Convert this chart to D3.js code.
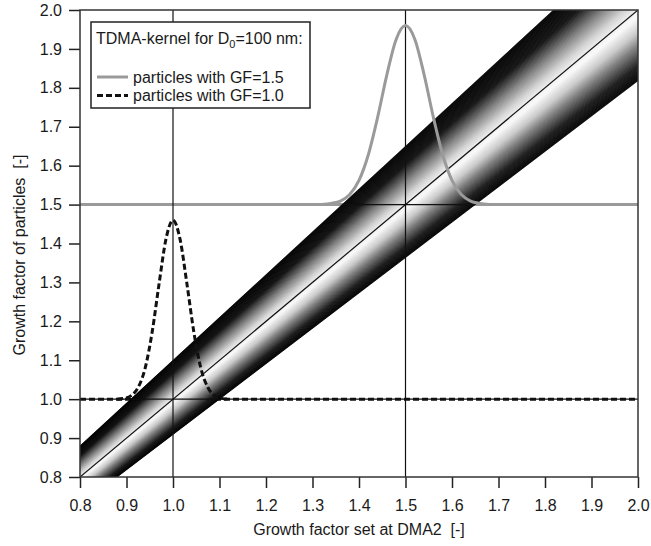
<!DOCTYPE html>
<html>
<head>
<meta charset="utf-8">
<script src="https://cdn.jsdelivr.net/npm/d3@7"></script>
<style>
  body { margin: 0; background: #fff; }
  text { font-family: "Liberation Sans", Arial, sans-serif; fill: #1a1a1a; white-space: pre; }
</style>
</head>
<body>
<div id="chart"></div>
<script>
// axis ticks
var xTicks = [0.8, 0.9, 1.0, 1.1, 1.2, 1.3, 1.4, 1.5, 1.6, 1.7, 1.8, 1.9, 2.0];
var yTicks = [0.8, 0.9, 1.0, 1.1, 1.2, 1.3, 1.4, 1.5, 1.6, 1.7, 1.8, 1.9, 2.0];

// kernel band: GF_particles between setGF/(1+w) and setGF*(1+w)
var bandWidth = 0.1;
// shade across the band: position (-1 lower edge .. +1 upper edge), grey level
var shadePos  = [-1.0, -0.78, -0.5, -0.3, -0.08, 0.0, 0.15, 0.4, 0.7, 1.0];
var shadeGrey = [   0,    25,  120,  200,   250, 240,  210, 128,  15,   0];

// guide lines (set GF of the two examples)
var guideValues = [1.0, 1.5];

// measured distribution, particles with GF=1.5
var gf15X = [1.32, 1.34, 1.36, 1.38, 1.40, 1.42, 1.44, 1.46, 1.48, 1.50, 1.52, 1.54, 1.56, 1.58, 1.60, 1.62, 1.64, 1.66, 1.68];
var gf15Y = [1.500, 1.503, 1.509, 1.526, 1.562, 1.628, 1.724, 1.834, 1.925, 1.960, 1.925, 1.834, 1.724, 1.628, 1.562, 1.526, 1.509, 1.503, 1.500];
// measured distribution, particles with GF=1.0
var gf10X = [0.880, 0.895, 0.910, 0.925, 0.940, 0.955, 0.970, 0.985, 1.000, 1.015, 1.030, 1.045, 1.060, 1.075, 1.090, 1.105, 1.120];
var gf10Y = [1.000, 1.002, 1.009, 1.030, 1.079, 1.171, 1.296, 1.412, 1.460, 1.412, 1.296, 1.171, 1.079, 1.030, 1.009, 1.002, 1.000];

var legendItems = ['particles with GF=1.5', 'particles with GF=1.0'];

const W = 651, H = 546;
const m = {left: 80, right: 13, top: 10, bottom: 69};
const FS = '16px';

const svg = d3.select('#chart').append('svg')
  .attr('width', W)
  .attr('height', H);

const x = d3.scaleLinear().domain([0.8, 2.0]).range([m.left, W - m.right]);
const y = d3.scaleLinear().domain([0.8, 2.0]).range([H - m.bottom, m.top]);

const defs = svg.append('defs');
defs.append('clipPath').attr('id', 'plotClip')
  .append('rect')
  .attr('x', x(0.8)).attr('y', y(2.0))
  .attr('width', x(2.0) - x(0.8)).attr('height', y(0.8) - y(2.0));

const rLo = 1 / (1 + bandWidth), rHi = 1 + bandWidth;
function bandPoints(r0, r1) {
  return [[x(0.7), y(0.7 * r0)], [x(2.1), y(2.1 * r0)],
          [x(2.1), y(2.1 * r1)], [x(0.7), y(0.7 * r1)]].join(' ');
}
defs.append('clipPath').attr('id', 'bandClip')
  .append('polygon').attr('points', bandPoints(rLo, rHi));

const plot = svg.append('g').attr('clip-path', 'url(#plotClip)');

// thin horizontal guides, under everything
const hGuide = function(g) {
  g.selectAll('line')
    .data(guideValues)
    .enter().append('line')
    .attr('x1', x(0.8)).attr('x2', x(2.0))
    .attr('y1', d => y(d)).attr('y2', d => y(d))
    .attr('stroke', '#111').attr('stroke-width', 1.2);
};
plot.append('g').call(hGuide);

// baselines of the distributions (under the kernel)
plot.append('line')
  .attr('x1', x(0.8)).attr('x2', x(2.0))
  .attr('y1', y(1.5)).attr('y2', y(1.5))
  .attr('stroke', '#9a9a9a').attr('stroke-width', 3);
plot.append('line')
  .attr('x1', x(0.8)).attr('x2', x(2.0))
  .attr('y1', y(1.0)).attr('y2', y(1.0))
  .attr('stroke', '#111').attr('stroke-width', 3)
  .attr('stroke-dasharray', '6,3');

// KERNEL BAND, drawn as thin strips of constant ratio
const shade = d3.scaleLinear().domain(shadePos).range(shadeGrey).clamp(true);
const nStrips = 120;
const lnW = Math.log(rHi);
const strips = d3.range(nStrips).map(function(i) {
  const s0 = -1 + 2 * i / nStrips, s1 = -1 + 2 * (i + 1) / nStrips;
  return {r0: Math.exp(s0 * lnW), r1: Math.exp(s1 * lnW), s: (s0 + s1) / 2};
});
plot.append('g').selectAll('polygon')
  .data(strips)
  .enter().append('polygon')
  .attr('points', d => bandPoints(d.r0, d.r1))
  .attr('fill', function(d) { const g = Math.round(shade(d.s)); return d3.rgb(g, g, g); })
  .attr('stroke', function(d) { const g = Math.round(shade(d.s)); return d3.rgb(g, g, g); })
  .attr('stroke-width', 0.6);

// horizontal guides again, visible through the band
plot.append('g').attr('clip-path', 'url(#bandClip)').call(hGuide);

// vertical guides and 1:1 line
const guide = plot.append('g').attr('stroke', '#111').attr('stroke-width', 1.2);
guideValues.forEach(function(v) {
  guide.append('line').attr('x1', x(v)).attr('x2', x(v)).attr('y1', y(0.8)).attr('y2', y(2.0));
});
guide.append('line').attr('x1', x(0.8)).attr('y1', y(0.8)).attr('x2', x(2.0)).attr('y2', y(2.0));

// distributions
const line = d3.line().curve(d3.curveMonotoneX)
  .x(function(d) { return x(d[0]); })
  .y(function(d) { return y(d[1]); });

plot.append('path')
  .datum(d3.zip(gf15X, gf15Y))
  .attr('d', line)
  .attr('fill', 'none')
  .attr('stroke', '#9a9a9a')
  .attr('stroke-width', 3);

plot.append('path')
  .datum(d3.zip(gf10X, gf10Y))
  .attr('d', line)
  .attr('fill', 'none')
  .attr('stroke', '#111')
  .attr('stroke-width', 3)
  .attr('stroke-dasharray', '6,3');

// AXES
const xAxis = svg.append('g')
  .attr('transform', `translate(0,${y(0.8)})`)
  .call(d3.axisBottom(x).tickValues(xTicks).tickFormat(d3.format('.1f')).tickSizeInner(11).tickSizeOuter(0).tickPadding(12));
const yAxis = svg.append('g')
  .attr('transform', `translate(${x(0.8)},0)`)
  .call(d3.axisLeft(y).tickValues(yTicks).tickFormat(d3.format('.1f')).tickSizeInner(11).tickSizeOuter(0).tickPadding(7));

[xAxis, yAxis].forEach(function(a) {
  a.select('.domain').remove();
  a.selectAll('line').attr('stroke', '#222').attr('stroke-width', 1.5);
  a.selectAll('text').style('font-size', FS).style('font-family', '"Liberation Sans", Arial, sans-serif').attr('fill', '#1a1a1a');
});

// frame
svg.append('rect')
  .attr('x', x(0.8)).attr('y', y(2.0))
  .attr('width', x(2.0) - x(0.8)).attr('height', y(0.8) - y(2.0))
  .attr('fill', 'none').attr('stroke', '#333').attr('stroke-width', 1.5);

// axis titles
svg.append('text')
  .attr('x', (x(0.8) + x(2.0)) / 2)
  .attr('y', 535)
  .attr('text-anchor', 'middle')
  .style('font-size', FS)
  .text('Growth factor set at DMA2  [-]');

svg.append('text')
  .attr('transform', 'translate(25,255) rotate(-90)')
  .attr('text-anchor', 'middle')
  .style('font-size', FS)
  .text('Growth factor of particles  [-]');

// LEGEND
const lg = svg.append('g');
lg.append('rect')
  .attr('x', 91).attr('y', 22).attr('width', 219).attr('height', 86)
  .attr('fill', '#fff').attr('stroke', '#222').attr('stroke-width', 1.5);

const title = lg.append('text').attr('x', 96).attr('y', 43.5).style('font-size', FS);
title.append('tspan').text('TDMA-kernel for D');
title.append('tspan').attr('dy', 4).style('font-size', '11px').text('0');
title.append('tspan').attr('dy', -4).text('=100 nm:');

lg.selectAll('line.item')
  .data(legendItems)
  .enter().append('line')
  .attr('class', 'item')
  .attr('x1', 97).attr('x2', 128)
  .attr('y1', (d, i) => 77 + i * 18.5).attr('y2', (d, i) => 77 + i * 18.5)
  .attr('stroke', (d, i) => i === 0 ? '#9a9a9a' : '#111')
  .attr('stroke-width', 3)
  .attr('stroke-dasharray', (d, i) => i === 0 ? null : '6,3');

lg.selectAll('text.item')
  .data(legendItems)
  .enter().append('text')
  .attr('class', 'item')
  .attr('x', 133)
  .attr('y', (d, i) => 83 + i * 18)
  .style('font-size', FS)
  .text(d => d);
</script>
</body>
</html>
